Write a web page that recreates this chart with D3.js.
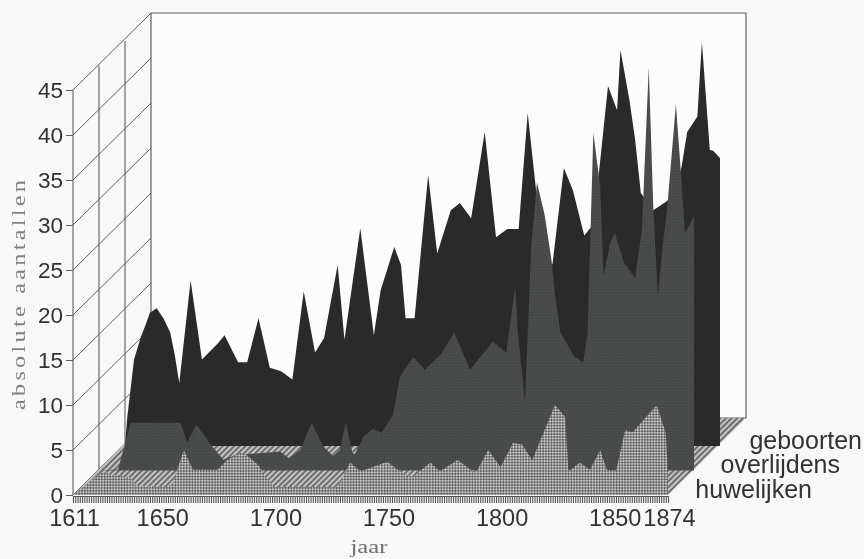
<!DOCTYPE html>
<html><head><meta charset="utf-8">
<style>html,body{margin:0;padding:0;background:#f8f8f8;overflow:hidden}svg{display:block}</style>
<script src="https://cdn.jsdelivr.net/npm/d3@7/dist/d3.min.js"></script>
</head><body><svg id="c" width="864" height="559"></svg>
<script>
const seriesNames = ["huwelijken","overlijdens","geboorten"];
const yTicks = [0,5,10,15,20,25,30,35,40,45];
const xLabels = [1611,1650,1700,1750,1800,1850,1874];
const yTitle = "absolute aantallen", xTitle = "jaar";

const birthYears = [1611,1612,1615,1618,1620,1622,1625,1628,1631,1633,1635,1640,1645,1652,1655,1661,1665,1670,1675,1680,1685,1690,1695,1699,1705,1708,1715,1721,1724,1730,1733,1735,1739,1745,1749,1755,1759,1764,1770,1775,1780,1785,1789,1797,1800,1805,1809,1814,1817,1820,1824.5,1828.5,1830,1834,1836.5,1839,1844.5,1850,1854,1857,1859.5,1864,1866,1869.5,1871,1874];
const birthValues = [0,3.2,9.6,12.1,13.4,14.8,15.3,14.2,12.6,10.1,7,18.4,9.6,11.4,12.3,9.3,9.3,14.2,8.7,8.3,7.4,17.2,10.4,12,20.1,11.8,24.2,12.3,17.3,22.1,20.1,14.2,14.2,30.1,21.4,26.2,27,25.3,34.9,23.2,24.1,24.1,37,18.4,20.3,30.9,28.4,23.4,24.3,29.2,40,37.3,44,38.4,34,28.1,26.2,27.1,28,31,34.9,36.6,44.9,32.9,32.8,32];

const deathYears = [1611,1619.4,1625,1647,1650,1654,1661,1666,1671,1691,1695,1700,1705,1710,1714.5,1717.5,1720,1723,1724,1728,1732,1736,1741,1744,1750,1755,1762,1768,1775,1785,1791,1795,1796,1799.3,1800.6,1802,1804.6,1808,1811,1812.6,1815,1816,1821,1825,1827,1829.5,1832.5,1834,1837,1839,1843,1848,1851,1854,1856,1858,1860.5,1862,1866,1868,1870,1874];
const deathValues = [0,0.1,5.3,5.3,3.1,5.1,2.7,1.2,1.7,2.1,1.4,2.3,5.3,2.7,1.6,2.3,5.3,2,1.8,3.8,4.6,4.2,6.2,10.4,12.6,11.2,12.9,15.3,11.2,14.3,13.1,20.4,15.7,7.6,15.7,24.6,32,28.4,23.4,19.3,15.3,14.9,12.7,12,15.3,37.5,31.6,21.6,25.3,26.4,23.1,21.4,26.8,44.8,29.3,19.3,25.7,28.7,40.7,33.8,26.4,28.2];

const marriageYears = [1611,1618,1624,1629,1636,1639,1652.5,1655,1660,1664,1675,1679,1685,1688,1693,1699.5,1728,1733.5,1738,1750,1755.5,1761,1769,1773,1781,1789,1794.5,1800,1805.5,1809.5,1814,1824,1828.5,1830,1835,1839.5,1844,1847,1851,1855,1858.5,1869,1873,1874];
const marriageValues = [0,1.4,2.6,2.2,2,1,0.9,1.3,5,2.8,2.8,3.9,4.7,4.4,3.3,0.9,0.9,3.6,2.6,3.7,2.6,2,3.6,2.6,3.9,2.4,5,3.1,5.8,5.6,3.9,10,8.7,2.6,3.6,2.8,5,2.8,2.6,7.2,7,10,6.9,2.4];

const svg = d3.select("#c");
const x = d3.scaleLinear().domain([1611,1874]).range([73,668]);
const y = d3.scaleLinear().domain([0,45]).range([495,90]);
// depth planes: 0 front .. 3 back wall
const depthX = d3.scaleLinear().domain([0,3]).range([0,78]);
const depthY = d3.scaleLinear().domain([0,1,2,3]).range([0,-24.5,-49,-77]);

const defs = svg.append("defs");
const blur = defs.append("filter").attr("id","scan").attr("x","-5%").attr("y","-5%").attr("width","110%").attr("height","110%");
blur.append("feGaussianBlur").attr("stdDeviation",0.7);

const hatch = defs.append("pattern").attr("id","floor").attr("patternUnits","userSpaceOnUse").attr("width",4).attr("height",4).attr("patternTransform","rotate(-45)");
hatch.append("rect").attr("width",4).attr("height",4).attr("fill","#c4c4c4");
hatch.append("rect").attr("width",4).attr("height",2).attr("fill","#6e6e6e");

const dith = defs.append("pattern").attr("id","front").attr("patternUnits","userSpaceOnUse").attr("width",4).attr("height",4).attr("patternTransform","rotate(45)");
dith.append("rect").attr("width",4).attr("height",4).attr("fill","#c6c6c6");
dith.append("rect").attr("width",2).attr("height",2).attr("fill","#5e5e5e");
dith.append("rect").attr("x",2).attr("y",2).attr("width",2).attr("height",2).attr("fill","#5e5e5e");

const mid = defs.append("pattern").attr("id","mid").attr("patternUnits","userSpaceOnUse").attr("width",4).attr("height",4).attr("patternTransform","rotate(45)");
mid.append("rect").attr("width",4).attr("height",4).attr("fill","#4c4f4e");
mid.append("rect").attr("width",2).attr("height",2).attr("fill","#454746");
mid.append("rect").attr("x",2).attr("y",2).attr("width",2).attr("height",2).attr("fill","#454746");

const g = svg.append("g").attr("filter","url(#scan)");
const lineCol = "#5f5f5f";
const x0 = x.domain()[0], x1 = x.domain()[1];
const px = (yr,d)=>x(yr)+depthX(d);
const py = (v,d)=>y(v)+depthY(d);

// back wall
g.append("path").attr("fill","#fcfcfc").attr("stroke",lineCol).attr("stroke-width",1.2)
 .attr("d",d3.line()([[px(x0,3),py(45,3)],[px(x1,3),py(45,3)],[px(x1,3),py(0,3)],[px(x0,3),py(0,3)]])+"Z");
// side wall grid
yTicks.forEach(t=>{
  g.append("line").attr("x1",px(x0,0)).attr("y1",py(t,0)).attr("x2",px(x0,3)).attr("y2",py(t,3))
   .attr("stroke",lineCol).attr("stroke-width",1);
});
[0,1,2].forEach(d=>{
  g.append("line").attr("x1",px(x0,d)).attr("x2",px(x0,d)).attr("y1",py(45,d)).attr("y2",py(0,d))
   .attr("stroke",lineCol).attr("stroke-width",1.1);
});
// floor
g.append("path").attr("fill","url(#floor)")
 .attr("d",d3.line()([[px(x0,0),py(0,0)],[px(x1,0),py(0,0)],[px(x1,3),py(0,3)],[px(x0,3),py(0,3)]])+"Z");

function ribbon(years,values,depth,fill){
  const pts = years.map((yr,i)=>({yr,v:values[i]}));
  const a = d3.area().x(d=>px(d.yr,depth)).y0(py(0,depth)).y1(d=>py(d.v,depth));
  g.append("path").datum(pts).attr("d",a).attr("fill",fill);
}
ribbon(birthYears,birthValues,2,"#2b2b2b");
ribbon(deathYears,deathValues,1,"url(#mid)");
ribbon(marriageYears,marriageValues,0,"url(#front)");

// axes
const axisX = d3.axisBottom(x).tickValues(d3.range(1611,1875)).tickSize(7).tickFormat("").tickSizeOuter(0);
const ax = g.append("g").attr("transform",`translate(0,${y(0)+1})`).call(axisX);
ax.selectAll("line").attr("stroke","#555").attr("stroke-width",1.1);
ax.select(".domain").attr("stroke","#555");

const axisY = d3.axisLeft(y).tickValues(yTicks).tickSize(7).tickFormat("").tickSizeOuter(0);
const ay = g.append("g").attr("transform",`translate(${x(x0)},0)`).call(axisY);
ay.selectAll("line").attr("stroke",lineCol);
ay.select(".domain").attr("stroke","none");

const sans = "'Liberation Sans',Arial,sans-serif", serif = "'Liberation Serif',serif";
const txt = "#333";
g.selectAll(".yl").data(yTicks).join("text").attr("class","yl").text(d=>d)
 .attr("x",63).attr("y",d=>y(d)+8).attr("text-anchor","end")
 .attr("font-family",sans).attr("font-size",22.5).attr("fill",txt);
g.selectAll(".xl").data(xLabels).join("text").attr("class","xl").text(d=>d)
 .attr("x",d=>x(d)+1.5).attr("y",525.5).attr("text-anchor","middle")
 .attr("font-family",sans).attr("font-size",23.5).attr("fill",txt);
seriesNames.forEach((n,i)=>{
  g.append("text").text(n).attr("x",[812,840,862][i]).attr("y",[498,473,449][i]).attr("text-anchor","end")
   .attr("font-family",sans).attr("font-size",25).attr("fill",txt);
});
g.append("text").text(yTitle).attr("transform","translate(25,410) rotate(-90) scale(1.35,1)")
 .attr("textLength",230/1.35).attr("lengthAdjust","spacing")
 .attr("font-family",serif).attr("font-size",18).attr("fill","#808080");
g.append("text").text(xTitle).attr("transform","translate(369,553) scale(1.3,1)").attr("text-anchor","middle")
 .attr("font-family",serif).attr("font-size",19).attr("fill","#707070");
</script></body></html>
